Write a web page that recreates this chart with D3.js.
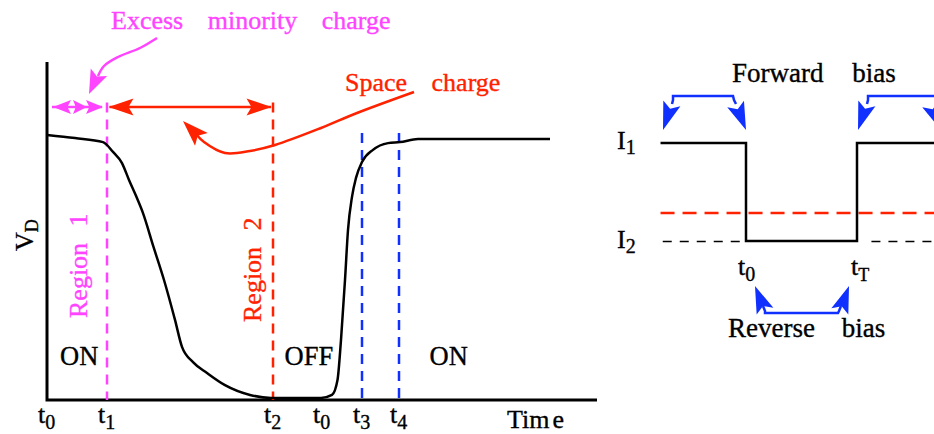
<!DOCTYPE html>
<html><head><meta charset="utf-8">
<script src="https://cdn.jsdelivr.net/npm/d3@7"></script>
<style>
html,body{margin:0;padding:0;background:#fff;}
svg{display:block;font-family:"Liberation Serif","Times New Roman",serif;}
svg text{stroke-width:0.35px;paint-order:stroke;}
</style></head>
<body>
<svg id="c" width="934" height="434"></svg>
<script>
// ---------- data ----------
// left panel: diode voltage V_D vs time (time units, V_D in % of full scale)
const vdTime = [0,5.6,11.2,13.2,15,16.4,17.8,19.2,21.3,23.4,25.6,27,29.2,32,35.6,40.6,44.8,54.8,57,58.1,58.8,59.6,60.2,61,61.8,63,65.2,68.2,70.6,74.2,100.6];
const vdValue = [78.4,77.5,76.3,73.4,70.1,65.1,60.4,55.3,45.3,35.5,23.7,15.7,11.2,8,4.4,1.5,0.6,0.6,1.5,5.9,17.8,35.5,50.3,60.1,65.7,70.4,74,76,76.3,77.2,77.2];
const tickNames = ["t0","t1","t2","t0","t3","t4"];
const tickTimes = [0,12,45.2,55,63,70.4];
const markerTimes = [12,45.2,63,70.4];            // dashed time markers t1,t2,t3,t4
const markerTops = [88,88,79,79];
const markerColors = ["#ff44ff","#ff2200","#1030ff","#1030ff"];
const stateLabels = ["ON","OFF","ON"];
const stateTimes = [2.6,47.5,76.5];
// right panel: current waveform
const waveT = [-0.77,0,0,1,1,1.7];
const waveI = [1,1,0,0,1,1];
const waveLevels = ["I1","I2"];
const refLevel = 0.286;   // red dashed reference level

const svg = d3.select("#c");
const W = 934;

// ---------- scales ----------
const x = d3.scaleLinear().domain([0,110]).range([47,597]);
const y = d3.scaleLinear().domain([0,100]).range([400,62]);
const xr = d3.scaleLinear().domain([0,1]).range([746,857]);
const yr = d3.scaleLinear().domain([0,1]).range([241,143]);

const MAG="#ff44ff", RED="#ff2200", BLUE="#1030ff";

function arrowHead(g, tip, from, len, half, color){
  const dx=tip[0]-from[0], dy=tip[1]-from[1], d=Math.hypot(dx,dy);
  const ux=dx/d, uy=dy/d, px=-uy, py=ux;
  const bx=tip[0]-ux*len, by=tip[1]-uy*len;
  const nx=tip[0]-ux*len*0.8, ny=tip[1]-uy*len*0.8;
  g.append("path")
   .attr("d", d3.line()([tip,[bx+px*half,by+py*half],[nx,ny],[bx-px*half,by-py*half]])+"Z")
   .attr("fill",color);
}
function sub(textSel, main, s, size, dy){
  textSel.append("tspan").text(main);
  textSel.append("tspan").text(s).attr("font-size",size).attr("dy",dy);
}

// ---------- left axes ----------
const axL = svg.append("g");
axL.append("path").attr("d", d3.line()([[x(0),y(100)],[x(0),y(0)],[x(110),y(0)]]))
  .attr("fill","none").attr("stroke","#000").attr("stroke-width",3);

// dashed markers
markerTimes.forEach((t,i)=>{
  svg.append("line").attr("x1",x(t)).attr("x2",x(t)).attr("y1",y(markerTops[i])).attr("y2",y(0))
    .attr("stroke",markerColors[i]).attr("stroke-width",2.5).attr("stroke-dasharray","10,7");
});

// V_D curve
const pts = vdTime.map((t,i)=>[t,vdValue[i]]);
svg.append("path").datum(pts)
  .attr("d", d3.line().x(d=>x(d[0])).y(d=>y(d[1])).curve(d3.curveMonotoneX))
  .attr("fill","none").attr("stroke","#000").attr("stroke-width",2.5);

// tick labels
tickNames.forEach((n,i)=>{
  const t = svg.append("text").attr("x",x(tickTimes[i])-9).attr("y",423).attr("font-size",26).attr("stroke","#000");
  sub(t, n[0], n.slice(1), 20, 6);
});
const tm = svg.append("text").attr("x",507).attr("y",428).attr("font-size",26).attr("stroke","#000");
tm.append("tspan").text("Tim");
tm.append("tspan").text("e").attr("dx",3);

// V_D label
const vd = svg.append("text").attr("transform","translate(33,251) rotate(-90)").attr("font-size",26).attr("stroke","#000");
sub(vd,"V","D",18,5);

// region labels
svg.append("text").attr("transform",`translate(${x(12)-20},318) rotate(-90)`).attr("font-size",26)
  .attr("fill",MAG).attr("stroke",MAG).attr("word-spacing",10).text("Region 1");
svg.append("text").attr("transform",`translate(${x(45.2)-12},322) rotate(-90)`).attr("font-size",26)
  .attr("fill",RED).attr("stroke",RED).attr("word-spacing",10).text("Region 2");

// state labels
stateLabels.forEach((s,i)=>{
  svg.append("text").attr("x",x(stateTimes[i])).attr("y",365).attr("font-size",26.5).attr("stroke","#000").text(s);
});

// annotation texts
svg.append("text").attr("x",111).attr("y",29).attr("font-size",26).attr("fill",MAG).attr("stroke",MAG)
  .attr("word-spacing",18).text("Excess minority charge");
svg.append("text").attr("x",345).attr("y",91).attr("font-size",26).attr("fill",RED).attr("stroke",RED)
  .attr("word-spacing",18).text("Space charge");

// magenta horizontal arrows (region 1)
const ay = 107;
const gm = svg.append("g");
gm.append("line").attr("x1",x(1)).attr("x2",x(11)).attr("y1",ay).attr("y2",ay).attr("stroke",MAG).attr("stroke-width",2.5);
arrowHead(gm,[x(1.2),ay],[x(5),ay],18,7,MAG);
arrowHead(gm,[x(8),ay],[x(5),ay],14,7,MAG);
arrowHead(gm,[x(11.2),ay],[x(5),ay],17,7,MAG);

// red horizontal double arrow (region 2)
const gr = svg.append("g");
gr.append("line").attr("x1",x(12.5)).attr("x2",x(44.8)).attr("y1",ay).attr("y2",ay).attr("stroke",RED).attr("stroke-width",2.5);
arrowHead(gr,[x(12.3),ay],[x(30),ay],25,8.5,RED);
arrowHead(gr,[x(44.9),ay],[x(30),ay],25,8.5,RED);

// magenta curved pointer
const magPath = [[157,38],[140,48],[118,57],[104,66],[98,76]];
svg.append("path").attr("d", d3.line().curve(d3.curveCatmullRom)(magPath))
  .attr("fill","none").attr("stroke",MAG).attr("stroke-width",2.5);
arrowHead(svg,[89,94],[99,72],24,9,MAG);

// red curved pointer
const redPath = [[414,92],[357,113],[321,128],[275,145],[250,151],[225,153],[204,142],[196,134]];
svg.append("path").attr("d", d3.line().curve(d3.curveCatmullRom)(redPath))
  .attr("fill","none").attr("stroke",RED).attr("stroke-width",2.5);
arrowHead(svg,[183,121],[204,142],26,9,RED);

// ---------- right panel ----------
const wave = waveT.map((t,i)=>[t,waveI[i]]);
svg.append("line").attr("x1",xr(-0.77)).attr("x2",W).attr("y1",yr(refLevel)).attr("y2",yr(refLevel))
  .attr("stroke",RED).attr("stroke-width",2.5).attr("stroke-dasharray","14,8");
svg.append("line").attr("x1",xr(-0.75)).attr("x2",xr(0)).attr("y1",yr(0)+0.5).attr("y2",yr(0)+0.5)
  .attr("stroke","#000").attr("stroke-width",1.3).attr("stroke-dasharray","9,8");
svg.append("line").attr("x1",xr(1.13)).attr("x2",W).attr("y1",yr(0)+0.5).attr("y2",yr(0)+0.5)
  .attr("stroke","#000").attr("stroke-width",1.3).attr("stroke-dasharray","9,8");
svg.append("path").datum(wave)
  .attr("d", d3.line().x(d=>xr(d[0])).y(d=>yr(d[1])))
  .attr("fill","none").attr("stroke","#000").attr("stroke-width",2.5);

sub(svg.append("text").attr("x",617).attr("y",yr(1)+6).attr("font-size",26).attr("stroke","#000"), "I","1",20,5);
sub(svg.append("text").attr("x",617).attr("y",yr(0)+7).attr("font-size",26).attr("stroke","#000"), "I","2",20,5);
sub(svg.append("text").attr("x",xr(0)-8).attr("y",275).attr("font-size",26).attr("stroke","#000"), "t","0",20,6);
sub(svg.append("text").attr("x",xr(1)-6).attr("y",275).attr("font-size",26).attr("stroke","#000"), "t","T",18,6);

svg.append("text").attr("x",732).attr("y",82).attr("font-size",27).attr("stroke","#000").attr("word-spacing",22).text("Forward bias");
svg.append("text").attr("x",728).attr("y",337).attr("font-size",27).attr("stroke","#000").attr("word-spacing",20).text("Reverse bias");

// blue brackets
function bracket(p){
  svg.append("path").attr("d", d3.line()(p)).attr("fill","none").attr("stroke",BLUE).attr("stroke-width",2.5);
}
bracket([[672,104],[673,100],[673,96],[733,96],[734,100],[736,104]]);
arrowHead(svg,[663,130],[673,100],28,9,BLUE);
arrowHead(svg,[746,130],[734,100],28,9,BLUE);
bracket([[867,104],[868,100],[868,96],[934,96]]);
arrowHead(svg,[858,130],[868,100],28,9,BLUE);
arrowHead(svg,[941,130],[929,100],28,9,BLUE);
bracket([[763,306],[765,311],[765,313],[838,313],[839,311],[841,306]]);
arrowHead(svg,[755,286],[765,311],27,9,BLUE);
arrowHead(svg,[849,286],[840,311],27,9,BLUE);
</script>
</body></html>
